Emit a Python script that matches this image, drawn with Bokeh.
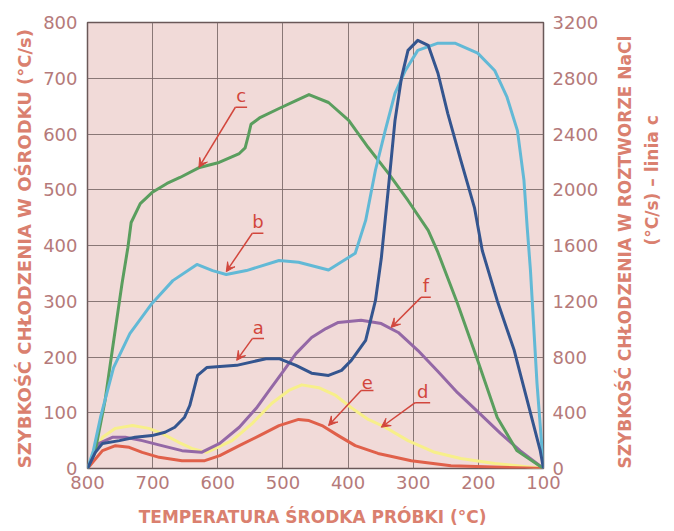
import math
from bokeh.plotting import figure
from bokeh.models import (Range1d, LinearAxis, FixedTicker, SingleIntervalTicker,
                          Arrow, VeeHead, ColumnDataSource)
from bokeh.core.properties import value
from bokeh.embed import file_html
from bokeh.resources import INLINE

# ---------------- data (temperature of sample centre, cooling rate) ----------------
# a - dark blue (left axis, °C/s)
a_t = [800, 788, 777, 751, 727, 701, 681, 666, 651, 643, 637, 631, 617, 571, 526, 506, 480,
       456, 430, 410, 395, 373, 358, 349, 338, 328, 318, 308, 293, 277, 262, 247, 227, 206,
       194, 171, 145, 125, 105, 100]
a_v = [0, 29, 45, 50, 56, 59, 65, 74, 92, 113, 140, 167, 181, 185, 197, 197, 185,
       171, 167, 176, 194, 230, 301, 377, 504, 624, 701, 750, 768, 759, 709, 637, 553, 468,
       391, 301, 212, 122, 32, 0]
# b - light blue (left axis)
b_t = [800, 791, 780, 760, 735, 701, 669, 632, 608, 587, 556, 506, 476, 430, 389, 373, 358,
       343, 328, 312, 293, 262, 236, 201, 175, 156, 140, 130, 125, 120, 110, 100]
b_v = [0, 32, 92, 181, 242, 296, 337, 366, 355, 348, 355, 373, 370, 356, 386, 445, 535,
       606, 673, 714, 750, 763, 763, 745, 714, 666, 606, 517, 432, 355, 153, 0]
# c - green (right axis, NaCl solution)
c_t = [800, 788, 773, 762, 747, 738, 733, 719, 701, 678, 658, 628, 598, 567, 558, 553, 549,
       536, 506, 480, 460, 430, 399, 369, 338, 308, 277, 262, 232, 201, 171, 141, 100]
c_v = [0, 129, 488, 847, 1327, 1586, 1765, 1901, 1980, 2045, 2088, 2160, 2196, 2260, 2300,
       2390, 2470, 2515, 2583, 2640, 2683, 2626, 2497, 2303, 2117, 1923, 1708, 1550, 1184,
       775, 366, 129, 0]
# d - yellow (left axis)
d_t = [800, 777, 757, 731, 706, 686, 660, 640, 617, 578, 547, 517, 491, 471, 445, 419, 395,
       369, 343, 308, 267, 227, 175, 100]
d_v = [0, 56, 72, 77, 72, 63, 47, 36, 29, 50, 81, 117, 140, 150, 145, 131, 109,
       88, 74, 50, 29, 18, 9, 0]
# e - red (left axis)
e_t = [800, 777, 757, 736, 716, 690, 655, 620, 597, 567, 536, 506, 476, 460, 440, 415, 389,
       354, 338, 303, 242, 100]
e_v = [0, 32, 41, 38, 29, 20, 14, 14, 23, 41, 59, 77, 88, 86, 77, 59, 41,
       27, 23, 14, 5, 0]
# f - purple (left axis)
f_t = [800, 782, 762, 742, 716, 686, 655, 625, 597, 567, 541, 521, 501, 480, 456, 434, 415,
       380, 349, 323, 293, 262, 232, 201, 166, 136, 100]
f_v = [0, 45, 56, 56, 50, 41, 32, 29, 45, 74, 108, 140, 172, 206, 235, 251, 262,
       266, 260, 244, 212, 174, 136, 102, 63, 32, 0]

x_ticks = [800, 700, 600, 500, 400, 300, 200, 100]

# curve labels (letter, underline start/end, arrow tip) in left-axis units
lab_text = ["a", "b", "c", "d", "e", "f"]
lab_x0 = [547, 547, 573, 297, 380, 288]
lab_x1 = [529, 530, 555, 274, 361, 273]
lab_y = [233, 422, 648, 118, 140, 307]
tip_x = [571, 587, 629, 349, 430, 334]
tip_y = [194, 353, 540, 74, 77, 253]

RIGHT_TITLE_1 = "SZYBKOŚĆ CHŁODZENIA W ROZTWORZE NaCl"
RIGHT_TITLE_2 = "(°C/s) – linia c"

# ---------------- styling ----------------
BG = "#f1dad8"
GRID = "#7d6b6b"
TICK_COL = "#b57a7a"
TITLE_COL = "#da806f"
ANN_COL = "#d2463c"
FONT = "DejaVu Sans"

p = figure(width=674, height=531, output_backend="svg", toolbar_location=None,
           x_range=Range1d(800, 100), y_range=Range1d(0, 800))
p.extra_y_ranges = {"nacl": Range1d(0, 3200)}
p.min_border_left = 87
p.min_border_right = 130
p.min_border_top = 22
p.min_border_bottom = 63
p.background_fill_color = BG
p.border_fill_color = "white"
p.outline_line_color = "#6a5858"
p.outline_line_width = 1.5

p.xaxis.ticker = FixedTicker(ticks=x_ticks)
p.yaxis.ticker = SingleIntervalTicker(interval=100)
p.xgrid.ticker = FixedTicker(ticks=x_ticks)

right = LinearAxis(y_range_name="nacl", ticker=SingleIntervalTicker(interval=400))
p.add_layout(right, "right")
right2 = LinearAxis(y_range_name="nacl", ticker=FixedTicker(ticks=[]))
p.add_layout(right2, "right")

for ax in [p.xaxis[0], p.yaxis[0], right, right2]:
    ax.axis_line_color = None
    ax.major_tick_line_color = None
    ax.minor_tick_line_color = None
    ax.major_tick_in = 0
    ax.major_tick_out = 0
    ax.minor_tick_out = 0
    ax.major_label_text_font = FONT
    ax.major_label_text_font_size = "18px"
    ax.major_label_text_color = TICK_COL
    ax.axis_label_text_font = FONT
    ax.axis_label_text_font_size = "17px"
    ax.axis_label_text_font_style = "bold"
    ax.axis_label_text_color = TITLE_COL

p.xaxis.major_label_standoff = 7
p.xaxis.axis_label = "TEMPERATURA ŚRODKA PRÓBKI  (°C)"
p.xaxis.axis_label_standoff = 15
p.yaxis[0].major_label_standoff = 10
p.yaxis[0].axis_label = "SZYBKOŚĆ CHŁODZENIA W OŚRODKU  (°C/s)"
p.yaxis[0].axis_label_text_font_size = "18px"
p.yaxis[0].axis_label_standoff = 5
right.major_label_standoff = 9

right.axis_label = RIGHT_TITLE_1
right.axis_label_orientation = math.pi / 2
right.axis_label_align = "start"
right.axis_label_standoff = 24

right2.axis_label = RIGHT_TITLE_2
right2.axis_label_orientation = math.pi / 2
right2.axis_label_align = "center"
right2.axis_label_standoff = 3
right2.major_label_standoff = 0

for g in [p.xgrid[0], p.ygrid[0]]:
    g.grid_line_color = GRID
    g.grid_line_width = 1
    g.grid_line_alpha = 0.9

# ---------------- curves ----------------
lw = 3
p.line(d_t, d_v, line_color="#f7ef8a", line_width=lw, line_join="round")
p.line(e_t, e_v, line_color="#e0604a", line_width=lw, line_join="round")
p.line(f_t, f_v, line_color="#9468a6", line_width=lw, line_join="round")
p.line(c_t, c_v, line_color="#5a9e5e", line_width=lw, line_join="round", y_range_name="nacl")
p.line(b_t, b_v, line_color="#62b9d6", line_width=lw, line_join="round")
p.line(a_t, a_v, line_color="#34558f", line_width=lw, line_join="round")

# ---------------- curve labels ----------------
src = ColumnDataSource(dict(t=lab_text, x0=lab_x0, x1=lab_x1, y=lab_y,
                            xm=[(u + v) / 2 for u, v in zip(lab_x0, lab_x1)],
                            tx=tip_x, ty=tip_y))
p.segment(x0="x0", y0="y", x1="x1", y1="y", source=src, line_color=ANN_COL, line_width=1.5)
p.add_layout(Arrow(x_start="x0", y_start="y", x_end="tx", y_end="ty", source=src,
                   line_color=ANN_COL, line_width=1.5,
                   end=VeeHead(size=9, line_color=ANN_COL, fill_color=ANN_COL, line_width=1)))
p.text(x="xm", y="y", text="t", source=src, text_align="center", text_baseline="bottom",
       y_offset=-1, text_font=value(FONT), text_font_size="18px", text_color=ANN_COL)

open("out.html", "w").write(file_html(p, INLINE))
